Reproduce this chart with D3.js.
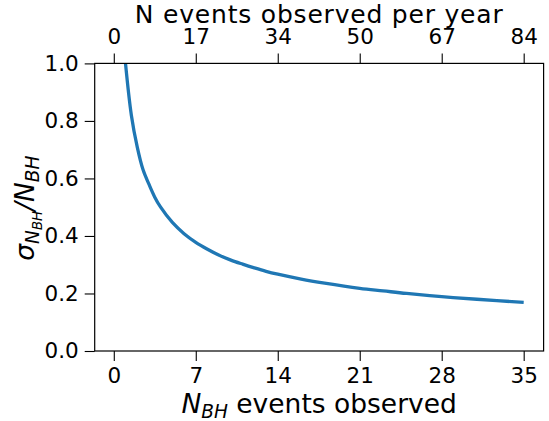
<!DOCTYPE html>
<html><head><meta charset="utf-8">
<script src="https://cdn.jsdelivr.net/npm/d3@7"></script>
<style>body{margin:0;background:#fff}svg{display:block}text{font-family:"DejaVu Sans",sans-serif;fill:#000}</style>
</head><body><svg id="c" width="549" height="421"></svg>
<script>
// Data
const nEvents = [1, 1.5, 2, 2.5, 3, 3.5, 4, 5, 6, 7, 8, 9, 10, 11, 12, 13, 14, 16, 18, 21, 23, 25, 28, 31, 35];
const relError = [1.0, 0.82, 0.71, 0.63, 0.58, 0.535, 0.50, 0.447, 0.408, 0.378, 0.354, 0.333, 0.316, 0.302, 0.289, 0.277, 0.267, 0.25, 0.236, 0.218, 0.209, 0.20, 0.189, 0.18, 0.169];
const bottomTicks = [0, 7, 14, 21, 28, 35];
const topTickLabels = ["0", "17", "34", "50", "67", "84"];
const yTicks = [0.0, 0.2, 0.4, 0.6, 0.8, 1.0];

const svg = d3.select("#c");
const L = 94.7, R = 543.6, T = 63.4, B = 351;
const x = d3.scaleLinear().domain([-1.63, 36.7]).range([L, R]);
const y = d3.scaleLinear().domain([0, 1]).range([B, T]);

const tickFont = 21.5, labelFont = 26.5, titleFont = 25;

// curve
svg.append("defs").append("clipPath").attr("id","clip")
  .append("rect").attr("x",L).attr("y",T).attr("width",R-L).attr("height",B-T);
const line = d3.line().x((d,i)=>x(nEvents[i])).y((d,i)=>y(relError[i])).curve(d3.curveCatmullRom.alpha(0.5));
svg.append("path").attr("d", line(relError)).attr("fill","none")
  .attr("stroke","#1f77b4").attr("stroke-width",3.3).attr("stroke-linecap","butt")
  .attr("clip-path","url(#clip)");

function styleAxis(g){
  g.select(".domain").remove();
  g.selectAll(".tick line").attr("stroke","#000").attr("stroke-width",1.1);
  g.selectAll(".tick text").attr("font-size",tickFont).attr("font-family","DejaVu Sans").attr("fill","#000");
}
const gb = svg.append("g").attr("transform",`translate(0,${B})`)
  .call(d3.axisBottom(x).tickValues(bottomTicks).tickFormat(d3.format("d")).tickSize(10).tickPadding(6.5));
styleAxis(gb);
const gt = svg.append("g").attr("transform",`translate(0,${T})`)
  .call(d3.axisTop(x).tickValues(bottomTicks).tickFormat((d,i)=>topTickLabels[i]).tickSize(10).tickPadding(9.4));
styleAxis(gt);
const gl = svg.append("g").attr("transform",`translate(${L},0)`)
  .call(d3.axisLeft(y).tickValues(yTicks).tickFormat(d3.format(".1f")).tickSize(10).tickPadding(6));
styleAxis(gl);

svg.append("rect").attr("x",L).attr("y",T).attr("width",R-L).attr("height",B-T)
  .attr("fill","none").attr("stroke","#000").attr("stroke-width",1.2);

// labels
svg.append("text").attr("x",(L+R)/2).attr("y",23.2).attr("text-anchor","middle")
  .attr("font-size",titleFont).attr("letter-spacing",0.8).text("N events observed per year");

const xl = svg.append("text").attr("x",(L+R)/2).attr("y",413).attr("text-anchor","middle").attr("font-size",labelFont);
xl.append("tspan").attr("font-style","italic").text("N");
xl.append("tspan").attr("font-style","italic").attr("font-size",labelFont*0.7).attr("dy",5).text("BH");
xl.append("tspan").attr("dy",-5).text(" events observed");

const yl = svg.append("text").attr("transform",`translate(34,${(T+B)/2 + 1}) rotate(-90)`)
  .attr("text-anchor","middle").attr("font-size",labelFont);
yl.append("tspan").attr("font-style","italic").text("σ");
yl.append("tspan").attr("font-style","italic").attr("font-size",labelFont*0.7).attr("dy",5).text("N");
yl.append("tspan").attr("font-style","italic").attr("font-size",labelFont*0.5).attr("dy",3).text("BH");
yl.append("tspan").attr("font-style","italic").attr("dy",-8).text("/N");
yl.append("tspan").attr("font-style","italic").attr("font-size",labelFont*0.7).attr("dy",5).text("BH");
</script></body></html>
